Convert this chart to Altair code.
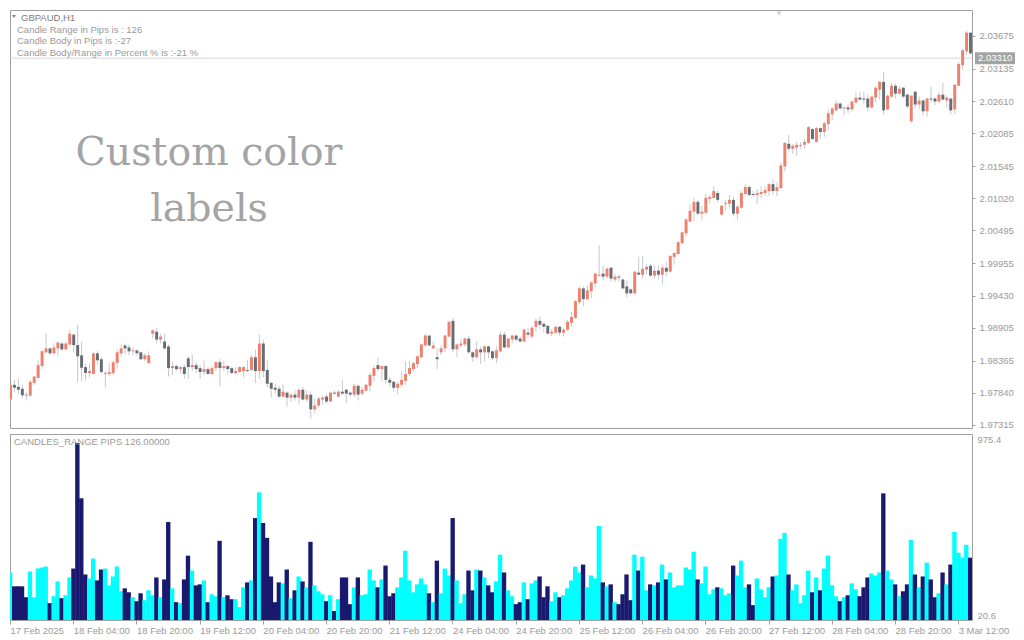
import altair as alt
import pandas as pd

# ---------------- data ----------------
OPEN = [
    1.97729, 1.97970, 1.97938, 1.97906, 1.97809, 1.97793, 1.98002, 1.98083, 1.98276, 1.98501,
    1.98565, 1.98485, 1.98565, 1.98645, 1.98549, 1.98629, 1.98790, 1.98619, 1.98452, 1.98260,
    1.98163, 1.98147, 1.98485, 1.98388, 1.98147, 1.98147, 1.98163, 1.98329, 1.98485, 1.98613,
    1.98581, 1.98517, 1.98533, 1.98501, 1.98388, 1.98324, 1.98806, 1.98838, 1.98710, 1.98678,
    1.98597, 1.98243, 1.98276, 1.98227, 1.98260, 1.98404, 1.98260, 1.98292, 1.98243, 1.98179,
    1.98227, 1.98147, 1.98243, 1.98340, 1.98243, 1.98276, 1.98243, 1.98163, 1.98179, 1.98195,
    1.98211, 1.98211, 1.98420, 1.98195, 1.98645, 1.98211, 1.98002, 1.97922, 1.97906, 1.97777,
    1.97841, 1.97761, 1.97809, 1.97761, 1.97890, 1.97729, 1.97809, 1.97568, 1.97632, 1.97729,
    1.97778, 1.97697, 1.97842, 1.97778, 1.97858, 1.97890, 1.97842, 1.97810, 1.97955, 1.97826,
    1.97874, 1.97955, 1.98115, 1.98292, 1.98228, 1.98276, 1.98051, 1.98019, 1.97922, 1.97971,
    1.98035, 1.98148, 1.98228, 1.98308, 1.98421, 1.98614, 1.98775, 1.98566, 1.98421, 1.98501,
    1.98566, 1.98759, 1.99016, 1.98550, 1.98614, 1.98630, 1.98726, 1.98501, 1.98421, 1.98550,
    1.98501, 1.98598, 1.98517, 1.98405, 1.98517, 1.98791, 1.98582, 1.98710, 1.98775, 1.98726,
    1.98678, 1.98823, 1.98759, 1.98919, 1.99016, 1.98968, 1.98935, 1.98807, 1.98823, 1.98919,
    1.98823, 1.98871, 1.98984, 1.99064, 1.99321, 1.99547, 1.99370, 1.99498, 1.99627, 1.99756,
    1.99788, 1.99739, 1.99884, 1.99691, 1.99739, 1.99691, 1.99579, 1.99530, 1.99466, 1.99804,
    1.99771, 1.99852, 1.99916, 1.99755, 1.99836, 1.99771, 1.99884, 1.99820, 2.00061, 2.00109,
    2.00286, 2.00447, 2.00640, 2.00801, 2.00961, 2.00768, 2.00784, 2.01010, 2.01026, 2.01106,
    2.00752, 2.00929, 2.00929, 2.00994, 2.00768, 2.00865, 2.01090, 2.01203, 2.01090, 2.01074,
    2.01090, 2.01106, 2.01138, 2.01251, 2.01138, 2.01186, 2.01540, 2.01910, 2.01830, 2.01846,
    2.01878, 2.01894, 2.01926, 2.02151, 2.01942, 2.02167, 2.02103, 2.02232, 2.02392, 2.02457,
    2.02569, 2.02489, 2.02505, 2.02473, 2.02585, 2.02666, 2.02650, 2.02650, 2.02505, 2.02666,
    2.02794, 2.02923, 2.02473, 2.02682, 2.02859, 2.02730, 2.02827, 2.02714, 2.02280, 2.02762,
    2.02553, 2.02618, 2.02441, 2.02650, 2.02650, 2.02602, 2.02714, 2.02618, 2.02650, 2.02473,
    2.02859, 2.03196, 2.03422, 2.03727,
]
HIGH = [
    1.97980, 1.98050, 1.98067, 1.97970, 1.97858, 1.98050, 1.98115, 1.98372, 1.98533, 1.98806,
    1.98581, 1.98645, 1.98678, 1.98662, 1.98662, 1.98871, 1.98806, 1.98951, 1.98678, 1.98313,
    1.98308, 1.98501, 1.98517, 1.98431, 1.98195, 1.98324, 1.98356, 1.98549, 1.98629, 1.98645,
    1.98629, 1.98581, 1.98560, 1.98517, 1.98485, 1.98517, 1.98871, 1.98903, 1.98806, 1.98806,
    1.98629, 1.98356, 1.98300, 1.98276, 1.98300, 1.98436, 1.98469, 1.98340, 1.98292, 1.98372,
    1.98260, 1.98276, 1.98356, 1.98388, 1.98356, 1.98292, 1.98260, 1.98260, 1.98270, 1.98276,
    1.98372, 1.98452, 1.98540, 1.98790, 1.98710, 1.98372, 1.98018, 1.97986, 1.97954, 1.97986,
    1.97858, 1.97825, 1.97880, 1.97906, 1.97938, 1.97880, 1.97858, 1.97745, 1.97777, 1.97794,
    1.97810, 1.97858, 1.97874, 1.97890, 1.98051, 1.97906, 1.97858, 1.97987, 1.97960, 1.97939,
    1.97987, 1.98164, 1.98276, 1.98405, 1.98280, 1.98292, 1.98099, 1.98035, 1.98019, 1.98196,
    1.98357, 1.98357, 1.98341, 1.98453, 1.98646, 1.98807, 1.98780, 1.98678, 1.98566, 1.98614,
    1.98791, 1.99016, 1.99064, 1.98646, 1.98726, 1.98743, 1.98775, 1.98517, 1.98678, 1.98598,
    1.98614, 1.98614, 1.98533, 1.98598, 1.98839, 1.98839, 1.98743, 1.98791, 1.98791, 1.98759,
    1.98887, 1.98903, 1.98935, 1.99064, 1.99090, 1.99000, 1.98952, 1.98880, 1.98935, 1.98935,
    1.98903, 1.99032, 1.99161, 1.99354, 1.99579, 1.99579, 1.99595, 1.99659, 1.99804, 2.00254,
    1.99916, 1.99900, 1.99900, 1.99788, 1.99772, 1.99707, 1.99675, 1.99547, 1.99825, 2.00061,
    2.00077, 1.99948, 1.99948, 1.99916, 1.99916, 1.99932, 1.99980, 2.00093, 2.00141, 2.00318,
    2.00479, 2.00704, 2.00929, 2.01026, 2.00990, 2.00897, 2.01090, 2.01074, 2.01219, 2.01140,
    2.00913, 2.00994, 2.01074, 2.01042, 2.00913, 2.01138, 2.01251, 2.01235, 2.01138, 2.01170,
    2.01219, 2.01219, 2.01267, 2.01331, 2.01283, 2.01605, 2.01942, 2.02055, 2.01910, 2.01942,
    2.01942, 2.01990, 2.02200, 2.02167, 2.02183, 2.02183, 2.02280, 2.02473, 2.02505, 2.02618,
    2.02585, 2.02521, 2.02560, 2.02618, 2.02746, 2.02762, 2.02762, 2.02714, 2.02698, 2.02859,
    2.02939, 2.03084, 2.02714, 2.02907, 2.02891, 2.02859, 2.02843, 2.02730, 2.02700, 2.02778,
    2.02682, 2.02634, 2.02666, 2.02843, 2.02666, 2.02746, 2.02907, 2.02700, 2.02666, 2.02891,
    2.03245, 2.03470, 2.03759, 2.03743,
]
LOW = [
    1.97716, 1.97847, 1.97820, 1.97756, 1.97713, 1.97777, 1.97970, 1.98072, 1.98233, 1.98485,
    1.98458, 1.98469, 1.98436, 1.98533, 1.98533, 1.98613, 1.98501, 1.98008, 1.98024, 1.98040,
    1.98088, 1.98140, 1.98308, 1.98152, 1.97927, 1.98115, 1.98131, 1.98249, 1.98436, 1.98464,
    1.98452, 1.98452, 1.98447, 1.98372, 1.98356, 1.98320, 1.98726, 1.98645, 1.98645, 1.98549,
    1.98104, 1.98131, 1.98195, 1.98147, 1.98070, 1.98067, 1.98195, 1.98163, 1.98067, 1.98131,
    1.98131, 1.98131, 1.98195, 1.97954, 1.98195, 1.98147, 1.98147, 1.98131, 1.98170, 1.98090,
    1.98179, 1.98195, 1.98000, 1.98067, 1.98099, 1.97922, 1.97761, 1.97825, 1.97761, 1.97761,
    1.97616, 1.97681, 1.97707, 1.97648, 1.97713, 1.97695, 1.97407, 1.97504, 1.97600, 1.97649,
    1.97665, 1.97690, 1.97810, 1.97762, 1.97810, 1.97670, 1.97778, 1.97778, 1.97713, 1.97794,
    1.97858, 1.97858, 1.98019, 1.98196, 1.98035, 1.97987, 1.97939, 1.97858, 1.97810, 1.97939,
    1.97971, 1.98115, 1.98196, 1.98244, 1.98405, 1.98598, 1.98598, 1.98550, 1.98228, 1.98453,
    1.98501, 1.98745, 1.98501, 1.98421, 1.98582, 1.98598, 1.98485, 1.98345, 1.98405, 1.98308,
    1.98357, 1.98405, 1.98370, 1.98324, 1.98501, 1.98566, 1.98566, 1.98646, 1.98678, 1.98662,
    1.98662, 1.98743, 1.98726, 1.98839, 1.98880, 1.98823, 1.98790, 1.98760, 1.98791, 1.98775,
    1.98759, 1.98855, 1.98919, 1.99048, 1.99289, 1.99257, 1.99354, 1.99386, 1.99563, 1.99739,
    1.99675, 1.99707, 1.99659, 1.99643, 1.99659, 1.99530, 1.99402, 1.99450, 1.99450, 1.99756,
    1.99707, 1.99771, 1.99739, 1.99707, 1.99700, 1.99611, 1.99739, 1.99804, 1.99932, 2.00100,
    2.00270, 2.00399, 2.00624, 2.00640, 2.00740, 2.00672, 2.00768, 2.00929, 2.01010, 2.00955,
    2.00736, 2.00817, 2.00881, 2.00720, 2.00672, 2.00849, 2.01074, 2.01058, 2.01042, 2.00929,
    2.01026, 2.01058, 2.01058, 2.01074, 2.01058, 2.01180, 2.01460, 2.01781, 2.01749, 2.01717,
    2.01830, 2.01830, 2.01910, 2.01974, 2.01926, 2.01990, 2.02023, 2.02125, 2.02296, 2.02441,
    2.02468, 2.02376, 2.02413, 2.02441, 2.02569, 2.02618, 2.02569, 2.02441, 2.02489, 2.02585,
    2.02634, 2.02392, 2.02457, 2.02666, 2.02650, 2.02714, 2.02650, 2.02489, 2.02248, 2.02489,
    2.02473, 2.02376, 2.02360, 2.02585, 2.02537, 2.02585, 2.02618, 2.02500, 2.02392, 2.02392,
    2.02855, 2.03116, 2.03357, 2.03373,
]
CLOSE = [
    1.97970, 1.97922, 1.97890, 1.97799, 1.97799, 1.98018, 1.98104, 1.98292, 1.98517, 1.98565,
    1.98485, 1.98581, 1.98662, 1.98549, 1.98645, 1.98806, 1.98619, 1.98436, 1.98249, 1.98163,
    1.98195, 1.98485, 1.98372, 1.98179, 1.98163, 1.98179, 1.98340, 1.98501, 1.98565, 1.98565,
    1.98517, 1.98533, 1.98485, 1.98388, 1.98452, 1.98452, 1.98860, 1.98710, 1.98758, 1.98565,
    1.98243, 1.98276, 1.98227, 1.98260, 1.98147, 1.98260, 1.98292, 1.98227, 1.98179, 1.98227,
    1.98147, 1.98243, 1.98340, 1.98243, 1.98276, 1.98227, 1.98163, 1.98195, 1.98260, 1.98260,
    1.98195, 1.98420, 1.98195, 1.98645, 1.98195, 1.97986, 1.97906, 1.97890, 1.97777, 1.97858,
    1.97761, 1.97809, 1.97761, 1.97890, 1.97729, 1.97809, 1.97568, 1.97632, 1.97745, 1.97762,
    1.97697, 1.97842, 1.97826, 1.97858, 1.97826, 1.97826, 1.97810, 1.97955, 1.97810, 1.97890,
    1.97971, 1.98131, 1.98244, 1.98228, 1.98276, 1.98051, 1.98003, 1.97922, 1.97987, 1.98051,
    1.98148, 1.98244, 1.98324, 1.98437, 1.98630, 1.98775, 1.98614, 1.98614, 1.98389, 1.98566,
    1.98775, 1.99000, 1.98550, 1.98630, 1.98646, 1.98726, 1.98501, 1.98421, 1.98550, 1.98501,
    1.98598, 1.98501, 1.98405, 1.98533, 1.98791, 1.98582, 1.98726, 1.98775, 1.98710, 1.98678,
    1.98871, 1.98791, 1.98903, 1.99016, 1.98952, 1.98919, 1.98807, 1.98839, 1.98919, 1.98823,
    1.98871, 1.99000, 1.99080, 1.99337, 1.99547, 1.99370, 1.99514, 1.99643, 1.99788, 1.99772,
    1.99739, 1.99868, 1.99707, 1.99739, 1.99723, 1.99547, 1.99466, 1.99466, 1.99820, 1.99772,
    1.99868, 1.99900, 1.99755, 1.99836, 1.99771, 1.99884, 1.99820, 2.00077, 2.00125, 2.00302,
    2.00463, 2.00672, 2.00817, 2.00961, 2.00768, 2.00801, 2.01026, 2.01042, 2.01138, 2.00994,
    2.00897, 2.00945, 2.00994, 2.00768, 2.00881, 2.01106, 2.01203, 2.01074, 2.01074, 2.01106,
    2.01122, 2.01154, 2.01251, 2.01138, 2.01203, 2.01556, 2.01926, 2.01830, 2.01878, 2.01894,
    2.01894, 2.01942, 2.02183, 2.01990, 2.02167, 2.02103, 2.02248, 2.02409, 2.02489, 2.02569,
    2.02489, 2.02505, 2.02473, 2.02602, 2.02666, 2.02634, 2.02634, 2.02505, 2.02682, 2.02827,
    2.02923, 2.02457, 2.02698, 2.02859, 2.02730, 2.02811, 2.02682, 2.02521, 2.02698, 2.02553,
    2.02618, 2.02441, 2.02650, 2.02634, 2.02602, 2.02714, 2.02634, 2.02666, 2.02457, 2.02875,
    2.03213, 2.03438, 2.03727, 2.03389,
]
# candle range indicator (points)
RANGE_PTS = [
    264.5, 193.4, 193.4, 193.4, 137.5, 269.5, 137.5, 284.8, 289.9, 294.9,
    107.0, 142.6, 218.7, 132.4, 147.6, 239.1, 284.8, 929.8, 645.4, 254.3,
    234.0, 335.6, 223.8, 279.7, 284.8, 198.4, 244.1, 294.9, 168.0, 183.2,
    162.9, 137.5, 117.2, 157.8, 122.2, 173.0, 147.6, 239.1, 137.5, 228.9,
    523.5, 183.2, 112.1, 107.0, 228.9, 350.8, 274.6, 198.4, 203.5, 223.8,
    112.1, 152.7, 142.6, 427.0, 137.5, 147.6, 127.3, 127.3, 86.7, 188.3,
    213.7, 223.8, 543.8, 675.9, 518.4, 442.2, 244.1, 112.1, 213.7, 208.6,
    279.7, 132.4, 173.0, 244.1, 218.7, 188.3, 421.9, 198.4, 168.0, 152.7,
    117.2, 147.6, 66.4, 127.3, 239.1, 239.1, 101.9, 188.3, 239.1, 147.6,
    152.7, 279.7, 223.8, 188.3, 228.9, 300.0, 142.6, 157.8, 188.3, 239.1,
    376.2, 223.8, 162.9, 203.5, 234.0, 203.5, 157.8, 112.1, 325.4, 157.8,
    284.8, 249.2, 543.8, 223.8, 107.0, 152.7, 274.6, 173.0, 279.7, 274.6,
    239.1, 198.4, 162.9, 218.7, 355.9, 264.5, 173.0, 142.6, 101.9, 112.1,
    213.7, 127.3, 208.6, 223.8, 244.1, 137.5, 193.4, 117.2, 162.9, 137.5,
    147.6, 183.2, 223.8, 294.9, 264.5, 305.1, 188.3, 249.2, 234.0, 503.2,
    213.7, 193.4, 203.5, 112.1, 101.9, 152.7, 254.3, 122.2, 355.9, 274.6,
    345.7, 173.0, 203.5, 198.4, 213.7, 305.1, 228.9, 264.5, 188.3, 198.4,
    198.4, 289.9, 279.7, 371.1, 228.9, 208.6, 294.9, 152.7, 178.1, 188.3,
    183.2, 147.6, 157.8, 300.0, 249.2, 325.4, 188.3, 203.5, 96.9, 234.0,
    178.1, 137.5, 188.3, 244.1, 249.2, 437.1, 467.6, 254.3, 173.0, 203.5,
    107.0, 147.6, 274.6, 162.9, 239.1, 173.0, 284.8, 350.8, 198.4, 142.6,
    117.2, 137.5, 147.6, 208.6, 178.1, 142.6, 188.3, 239.1, 259.4, 249.2,
    264.5, 670.8, 274.6, 228.9, 203.5, 142.6, 168.0, 203.5, 432.1, 254.3,
    188.3, 244.1, 315.3, 228.9, 137.5, 157.8, 264.5, 203.5, 305.1, 472.7,
    366.0, 340.6, 406.7, 340.6,
]
TIME_TICK_BARS = [0, 16, 32, 48, 64, 80, 96, 112, 128, 144, 160, 176, 192, 208, 224, 240]
TIME_TICK_LABELS = [
    "17 Feb 2025", "18 Feb 04:00", "18 Feb 20:00", "19 Feb 12:00", "20 Feb 04:00",
    "20 Feb 20:00", "21 Feb 12:00", "24 Feb 04:00", "24 Feb 20:00", "25 Feb 12:00",
    "26 Feb 04:00", "26 Feb 20:00", "27 Feb 12:00", "28 Feb 04:00", "28 Feb 20:00",
    "3 Mar 12:00",
]
PRICE_TICKS = [2.03675, 2.03135, 2.02610, 2.02085, 2.01545, 2.01020, 2.00495,
               1.99955, 1.99430, 1.98905, 1.98365, 1.97840, 1.97315]
PRICE_RANGE = [1.97264, 2.04098]
RANGE_SCALE = [20.6, 975.4]
BID = 2.03310
SYMBOL = "GBPAUD,H1"
INFO_LINES = ["Candle Range in Pips is : 126",
              "Candle Body in Pips is :-27",
              "Candle Body/Range in Percent % is :-21 %"]
BIG_LINES = ["Custom color", "labels"]
SUB_TITLE = "CANDLES_RANGE PIPS 126.00000"

assert len(OPEN) == len(HIGH) == len(LOW) == len(CLOSE) == len(RANGE_PTS), (
    len(OPEN), len(HIGH), len(LOW), len(CLOSE), len(RANGE_PTS))

# ---------------- styling ----------------
W, H1, H2 = 962, 418, 186
FONT = "Liberation Sans"
BORDER = "#a0a0a0"
AXIS_TXT = "#9a9a9a"
UP_BODY, DOWN_BODY, WICK = "#ee806e", "#686c73", "#c6c9d1"
UP_HIST, DOWN_HIST = "#00ffff", "#191970"
N = len(OPEN)

df = pd.DataFrame({"bar": list(range(N)), "open": OPEN, "high": HIGH,
                   "low": LOW, "close": CLOSE, "rng": RANGE_PTS})
df["dir"] = ["up" if c >= o else "down" for o, c in zip(OPEN, CLOSE)]
df["hdir"] = ["bull" if c >= o else "bear" for o, c in zip(OPEN, CLOSE)]

xs = alt.Scale(domain=[0, N - 0.5], nice=False, zero=False)
ys = alt.Scale(domain=PRICE_RANGE, nice=False, zero=False)
hs = alt.Scale(domain=RANGE_SCALE, nice=False, zero=False)

price_axis = alt.Axis(orient="right", values=PRICE_TICKS, format=".5f", title=None,
                      grid=False, domain=False, tickSize=3, tickColor=BORDER,
                      labelPadding=4, labelFont=FONT, labelFontSize=9.5,
                      labelColor=AXIS_TXT, labelOverlap=False)


def txt(s, x, y, size=9.5, color="#9a9a9a", font=FONT, align="left", baseline="middle"):
    return alt.Chart(pd.DataFrame({"t": [s]})).mark_text(
        align=align, baseline=baseline, font=font, fontSize=size, color=color
    ).encode(x=alt.value(x), y=alt.value(y), text="t:N")


base = alt.Chart(df)

bid_line = alt.Chart(pd.DataFrame({"p": [BID]})).mark_rule(color="#d6d6dc", strokeWidth=1).encode(
    y=alt.Y("p:Q", scale=ys, axis=price_axis))

wicks = base.transform_calculate(wx="datum.bar + 0.125").mark_rule(
    color=WICK, strokeWidth=1, clip=True).encode(
    x=alt.X("wx:Q", scale=xs, axis=None),
    y=alt.Y("low:Q", scale=ys, axis=price_axis),
    y2="high:Q")

bodies = base.transform_calculate(bx0="datum.bar - 0.25", bx1="datum.bar + 0.5").mark_rect(
    clip=True).encode(
    x=alt.X("bx0:Q", scale=xs, axis=None), x2="bx1:Q",
    y=alt.Y("open:Q", scale=ys, axis=price_axis), y2="close:Q",
    color=alt.Color("dir:N", scale=alt.Scale(domain=["up", "down"], range=[UP_BODY, DOWN_BODY]),
                    legend=None))

bid_df = pd.DataFrame({"p": [BID], "label": [f"{BID:.5f}"]})
bid_box = alt.Chart(bid_df).mark_rect(color="#a3a3a3", yOffset=-6, y2Offset=6).encode(
    x=alt.value(W + 3), x2=alt.value(W + 43),
    y=alt.Y("p:Q", scale=ys, axis=price_axis), y2="p:Q")
bid_txt = alt.Chart(bid_df).mark_text(align="left", baseline="middle", font=FONT,
                                      fontSize=9.5, color="white").encode(
    x=alt.value(W + 6), y=alt.Y("p:Q", scale=ys, axis=price_axis), text="label:N")

sym_tri = alt.Chart(pd.DataFrame({"a": [0]})).mark_point(
    shape="triangle-down", filled=True, size=14, color="#7a7a7a", opacity=1).encode(
    x=alt.value(4), y=alt.value(6.5))
shift_tri = alt.Chart(pd.DataFrame({"a": [0]})).mark_point(
    shape="triangle-down", filled=True, size=24, color="#d0d0d0", opacity=1).encode(
    x=alt.value(769), y=alt.value(3.5))

top = alt.layer(
    bid_line, wicks, bodies, bid_box, bid_txt, sym_tri, shift_tri,
    txt(SYMBOL, 11, 7.5, color="#7d7d7d"),
    txt(INFO_LINES[0], 7, 19.5),
    txt(INFO_LINES[1], 7, 31),
    txt(INFO_LINES[2], 7, 42.5),
    txt(BIG_LINES[0], 199, 155, size=39.5, color="#a4a4a4", font="DejaVu Serif",
        align="center", baseline="alphabetic"),
    txt(BIG_LINES[1], 199, 211, size=39.5, color="#a4a4a4", font="DejaVu Serif",
        align="center", baseline="alphabetic"),
).properties(width=W, height=H1)

label_expr = ("[" + ",".join(f"'{s}'" for s in TIME_TICK_LABELS) + "][indexof("
              + str(TIME_TICK_BARS) + ", datum.value)]")
time_axis = alt.Axis(values=TIME_TICK_BARS, labelExpr=label_expr, title=None, grid=False,
                     domain=False, tickSize=4, tickColor=BORDER, labelAlign="left",
                     labelBaseline="top", labelPadding=1, labelFont=FONT, labelFontSize=9.5,
                     labelColor=AXIS_TXT, labelOverlap=False, labelFlush=False)
range_axis = alt.Axis(orient="right", values=RANGE_SCALE, format=".1f", title=None,
                      grid=False, domain=False, ticks=False, tickSize=0, labelPadding=5,
                      labelFlush=True, labelFont=FONT, labelFontSize=9.5,
                      labelColor=AXIS_TXT)

hist = base.transform_calculate(hx0="datum.bar - 0.5", hx1="datum.bar + 0.6").mark_rect(
    clip=True).encode(
    x=alt.X("hx0:Q", scale=xs, axis=time_axis), x2="hx1:Q",
    y=alt.Y("rng:Q", scale=hs, axis=range_axis), y2=alt.datum(RANGE_SCALE[0]),
    color=alt.Color("hdir:N", scale=alt.Scale(domain=["bull", "bear"], range=[UP_HIST, DOWN_HIST]),
                    legend=None))

bottom = alt.layer(
    hist,
    txt(SUB_TITLE, 4, 8),
).properties(width=W, height=H2)

chart = alt.vconcat(top, bottom, spacing=3).resolve_scale(
    color="independent", x="independent", y="independent"
).properties(
    padding={"left": 1, "top": 1, "right": 0, "bottom": 0},
    background="white",
).configure_view(stroke=BORDER, strokeWidth=1)

chart.save("out.html", embed_options={"renderer": "svg", "actions": False})
